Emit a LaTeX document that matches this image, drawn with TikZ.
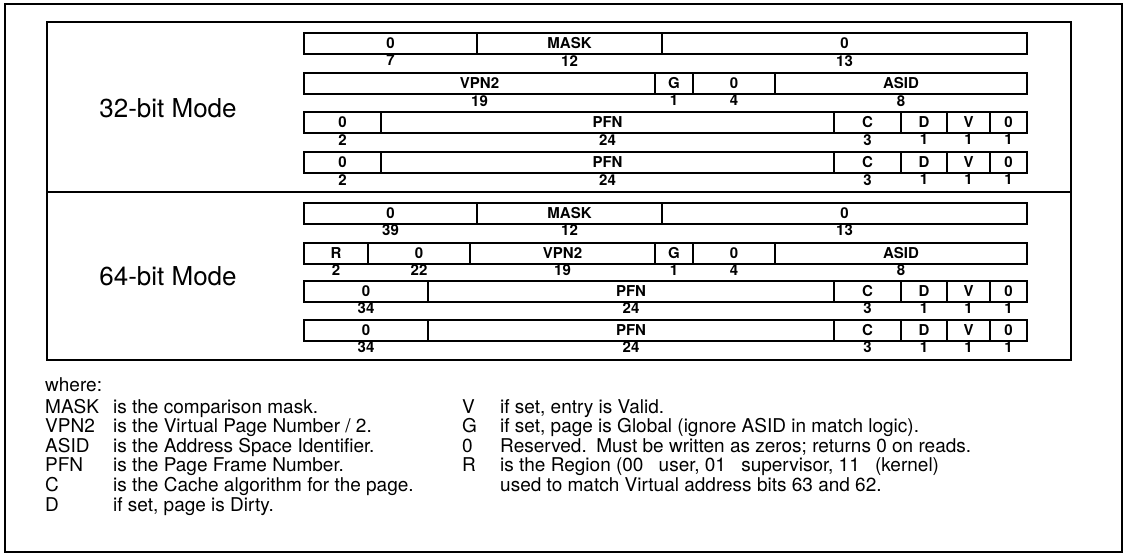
\documentclass[tikz,border=0pt]{standalone}
\usepackage{fontspec}
\setmainfont{TeX Gyre Heros}
\usetikzlibrary{positioning}
\tikzset{
 field/.style={
 rectangle,
 draw,
 line width=2pt,
 inner sep=0pt,
 minimum height=21pt,
 font=\fontsize{15}{18}\selectfont\bfseries
 },
 bitnum/.style={
 inner sep=0pt,
 font=\fontsize{15}{18}\selectfont\bfseries
 },
 modelabel/.style={font=\fontsize{26}{30}\selectfont},
 legend/.style={
 anchor=base west,
 inner sep=0pt,
 font=\fontsize{19}{22}\selectfont
 },
 frame/.style={line width=2.5pt}
}
\newcommand{\fieldrow}[3]{%
 \foreach \xa/\xb/\lbl/\bits [count=\i] in {#3} {
 \node[field, minimum width={(\xb-\xa)*1pt}] (#1-\i) at ({(\xa+\xb)/2},{#2}) {\lbl};
 \node[bitnum, below=0pt of #1-\i] (#1-\i-w) {\bits};
 }%
}

\begin{document}
\begin{tikzpicture}[x=1pt, y=-1pt]
 \useasboundingbox (0,0) rectangle (1126,554);
 \draw[line width=1.5pt] (5,4) rectangle (1122,552);
 \draw[frame] (47,22) rectangle (1071,360);
 \draw[frame] (47,192) -- (1071,192);

 \node[modelabel] (mode32) at (168,108) {32-bit Mode};
 \node[modelabel] (mode64) at (168,276) {64-bit Mode};

 \fieldrow{mask32}{43.5}{304/477/0/7, 477/662/MASK/12, 662/1027/0/13}
 \fieldrow{hi32}{83.5}{304/655/VPN2/19, 655/693/G/1, 693/775/0/4, 775/1027/ASID/8}
 \fieldrow{loa32}{122.5}{304/381/0/2, 381/834/PFN/24, 834/901/C/3, 901/947/D/1, 947/990/V/1, 990/1027/0/1}
 \fieldrow{lob32}{162.5}{304/381/0/2, 381/834/PFN/24, 834/901/C/3, 901/947/D/1, 947/990/V/1, 990/1027/0/1}
 \fieldrow{mask64}{213}{304/477/0/39, 477/662/MASK/12, 662/1027/0/13}
 \fieldrow{hi64}{253}{304/368/R/2, 368/470/0/22, 470/655/VPN2/19, 655/693/G/1, 693/775/0/4, 775/1027/ASID/8}
 \fieldrow{loa64}{291}{304/428/0/34, 428/834/PFN/24, 834/901/C/3, 901/947/D/1, 947/990/V/1, 990/1027/0/1}
 \fieldrow{lob64}{330}{304/428/0/34, 428/834/PFN/24, 834/901/C/3, 901/947/D/1, 947/990/V/1, 990/1027/0/1}

 \node[legend] (where) at (45,391) {where:};
 \foreach \t/\d [count=\k] in {
 {MASK/{is the comparison mask.}},
 {VPN2/{is the Virtual Page Number / 2.}},
 {ASID/{is the Address Space Identifier.}},
 {PFN/{is the Page Frame Number.}},
 {C/{is the Cache algorithm for the page.}},
 {D/{if set, page is Dirty.}}} {
 \node[legend] (lterm\k) at (45,{413+19.6*(\k-1)}) {\t};
 \node[legend] (ldef\k) at (113,{413+19.6*(\k-1)}) {\d};
 }
 \foreach \t/\d [count=\k] in {
 {V/{if set, entry is Valid.}},
 {G/{if set, page is Global (ignore ASID in match logic).}},
 {0/{Reserved.\enspace Must be written as zeros; returns 0 on reads.}},
 {R/{is the Region (00\hspace{0.8em}user, 01\hspace{0.8em}supervisor, 11\hspace{0.8em}(kernel)}},
 {/{used to match Virtual address bits 63 and 62.}}} {
 \node[legend] (rterm\k) at (462,{413+19.6*(\k-1)}) {\t};
 \node[legend] (rdef\k) at (500,{413+19.6*(\k-1)}) {\d};
 }
\end{tikzpicture}
\end{document}
